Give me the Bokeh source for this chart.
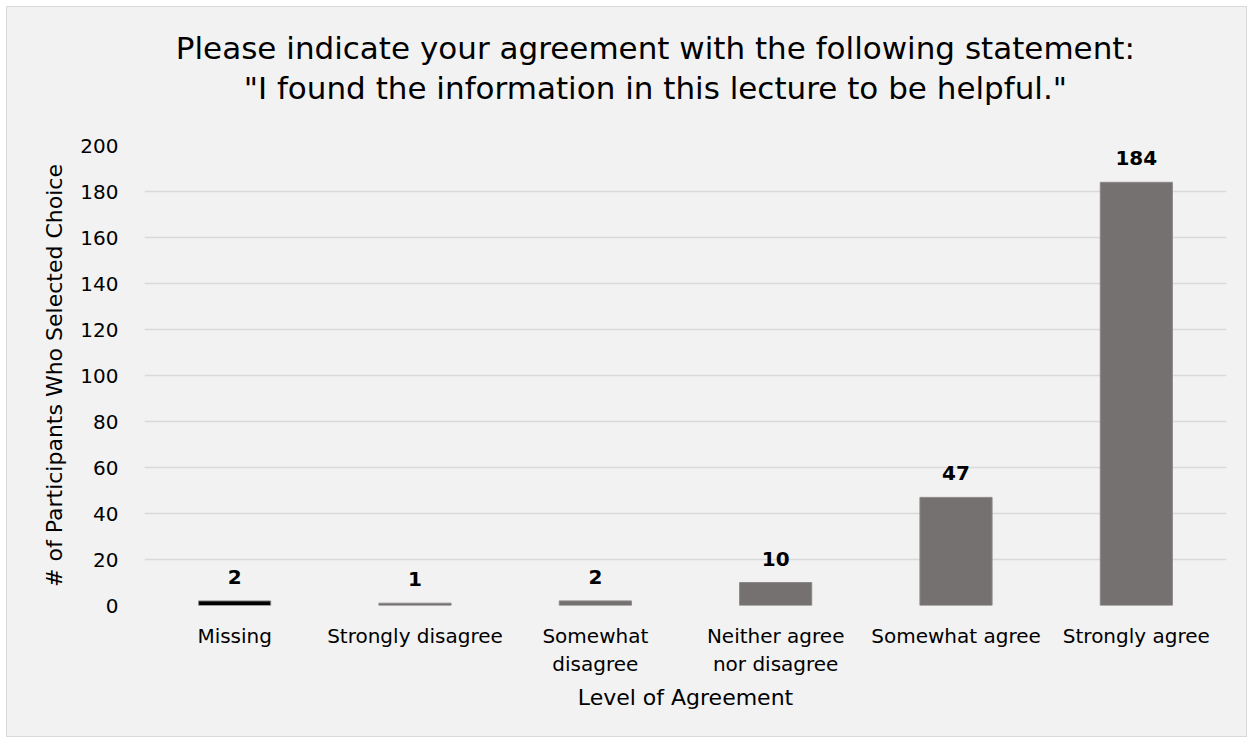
from bokeh.plotting import figure
from bokeh.layouts import column
from bokeh.models import ColumnDataSource, LabelSet, Range1d, FactorRange, SingleIntervalTicker
from bokeh.core.properties import value
from bokeh.embed import file_html
from bokeh.resources import INLINE

categories = ["Missing", "Strongly disagree", "Somewhat\ndisagree",
              "Neither agree\nnor disagree", "Somewhat agree", "Strongly agree"]
counts = [2, 1, 2, 10, 47, 184]
bar_colors = ["#000000", "#767171", "#767171", "#767171", "#767171", "#767171"]
title_lines = ["Please indicate your agreement with the following statement:",
               "\"I found the information in this lecture to be helpful.\""]

FONT = "DejaVu Sans"
BG = "#f2f2f2"
W = 1239
TITLE_H = 126

# ---- title strip (own figure so both lines can be centred) ----
tf = figure(width=W, height=TITLE_H, x_range=Range1d(0, W), y_range=Range1d(0, TITLE_H),
            output_backend="svg", toolbar_location=None,
            min_border=0, min_border_left=0, min_border_right=0,
            min_border_top=0, min_border_bottom=0)
tf.axis.visible = False
tf.grid.visible = False
tf.outline_line_color = None
tf.background_fill_color = BG
tf.border_fill_color = BG
tf.text(x=[585, 585], y=[86, 46], text=title_lines, text_align="center",
        text_baseline="middle", text_font=value(FONT), text_font_size=value("31px"),
        text_color="#000000")

# ---- main chart ----
src = ColumnDataSource(dict(cat=categories, n=counts, color=bar_colors,
                            lab=[str(v) for v in counts]))

p = figure(x_range=FactorRange(*categories), y_range=Range1d(0, 200),
           width=W, height=729 - TITLE_H, output_backend="svg", toolbar_location=None,
           min_border_left=137, min_border_right=20, min_border_top=12,
           min_border_bottom=131, title=None)

p.background_fill_color = BG
p.border_fill_color = BG
p.outline_line_color = None

p.vbar(x="cat", top="n", width=0.4, source=src, fill_color="color",
       line_color="#8c8888", line_width=1)

labels = LabelSet(x="cat", y="n", text="lab", source=src, text_align="center",
                  text_baseline="bottom", y_offset=17, text_font=value(FONT),
                  text_font_size=value("20px"), text_font_style="bold", text_color="#000000")
p.add_layout(labels)

p.yaxis.ticker = SingleIntervalTicker(interval=20)
p.ygrid.ticker = SingleIntervalTicker(interval=20)
p.ygrid.grid_line_color = "#d9d9d9"
p.ygrid.grid_line_width = 1.5
p.xgrid.grid_line_color = None

for ax in (p.xaxis, p.yaxis):
    ax.axis_line_color = None
    ax.major_tick_line_color = None
    ax.minor_tick_line_color = None
    ax.major_label_text_font = FONT
    ax.major_label_text_font_size = "20px"
    ax.major_label_text_color = "#000000"
    ax.axis_label_text_font = FONT
    ax.axis_label_text_font_size = "22px"
    ax.axis_label_text_font_style = "normal"
    ax.axis_label_text_color = "#000000"

p.xaxis.axis_label = "Level of Agreement"
p.yaxis.axis_label = "# of Participants Who Selected Choice"
p.xaxis.major_label_standoff = 12
p.yaxis.major_label_standoff = 20
p.xaxis.axis_label_standoff = 6
p.yaxis.axis_label_standoff = 10

layout = column(tf, p, spacing=0)
layout.margin = (6, 6, 6, 6)
layout.styles = {"border": "1px solid #d9d9d9", "background-color": BG}

open("out.html", "w").write(file_html(layout, INLINE))
